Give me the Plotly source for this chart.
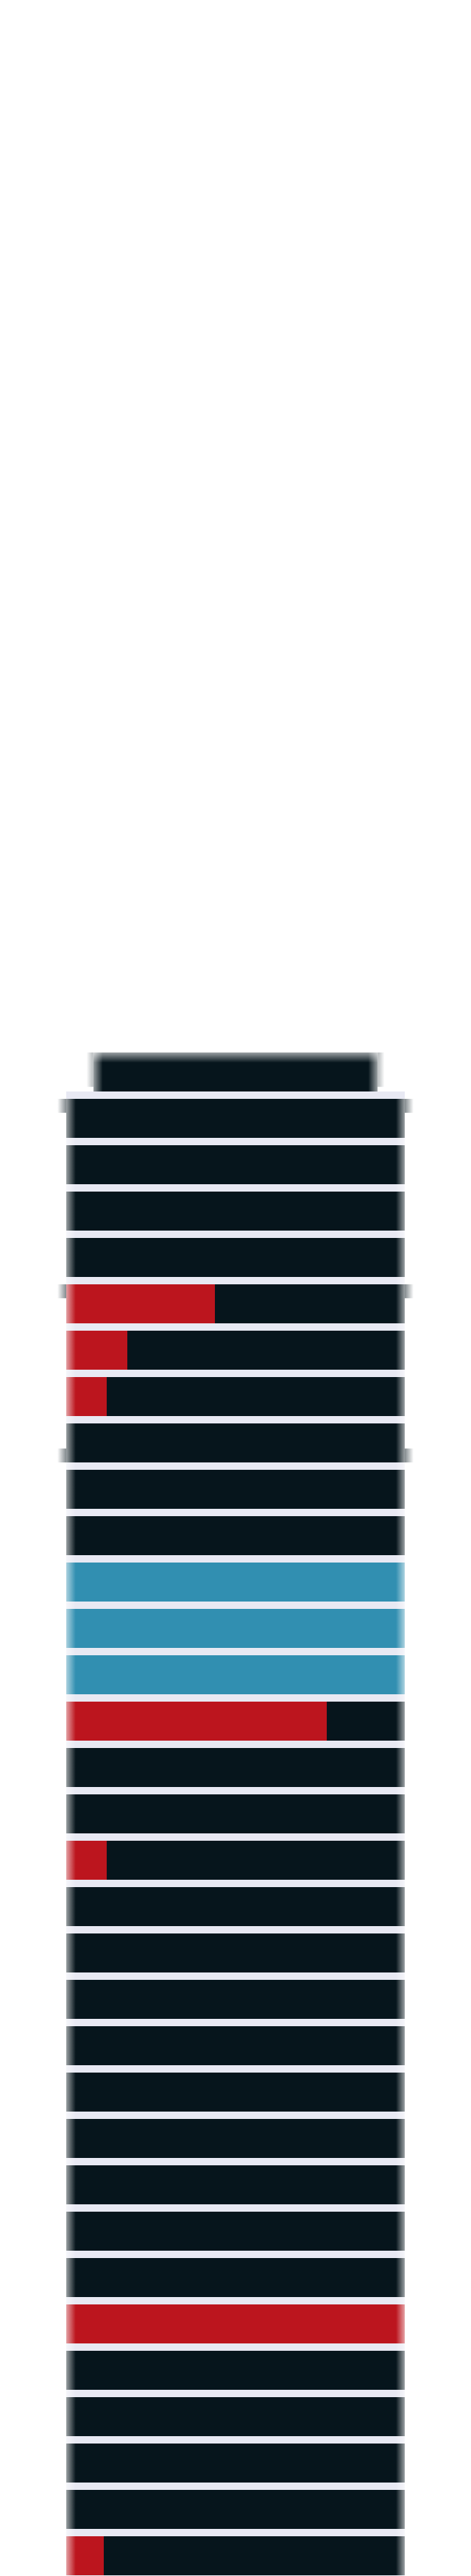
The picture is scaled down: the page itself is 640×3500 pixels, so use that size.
import plotly.graph_objects as go

# ---- data (top floor first) ----
floors = list(range(33, 0, -1))          # 33 = narrow roof floor
floor_inset = [8] + [0] * 32             # % inset of each floor on each side
red_pct = [0,
           0, 0, 0, 0,
           44, 18, 12,
           0, 0, 0,
           0, 0, 0,
           77,
           0, 0,
           12,
           0, 0, 0, 0, 0, 0, 0, 0, 0,
           100,
           0, 0, 0, 0,
           11]
blue_pct = [0,
            0, 0, 0, 0,
            0, 0, 0,
            0, 0, 0,
            100, 100, 100,
            0,
            0, 0,
            0,
            0, 0, 0, 0, 0, 0, 0, 0, 0,
            0,
            0, 0, 0, 0,
            0]
ledge_floors = [32, 28]          # cornice ledges at top of these floors
ledge_floors_bottom = [25]       # cornice ledge at bottom of this floor

DARK = "#06151c"
RED = "#bc151e"
BLUE = "#318fb1"
GAP = "#e8e9f3"
BG = "#ffffff"

bw = 53 / 63

fig = go.Figure()

# filled part
fig.add_bar(y=floors, x=red_pct, base=floor_inset, orientation="h",
            marker=dict(color=RED, line=dict(width=0)), width=bw,
            hoverinfo="skip", showlegend=False)
fig.add_bar(y=floors, x=blue_pct, base=[i + r for i, r in zip(floor_inset, red_pct)],
            orientation="h", marker=dict(color=BLUE, line=dict(width=0)), width=bw,
            hoverinfo="skip", showlegend=False)
# remaining (dark) part
dark_base = [i + r + b for i, r, b in zip(floor_inset, red_pct, blue_pct)]
dark_len = [100 - i - d for i, d in zip(floor_inset, dark_base)]
fig.add_bar(y=floors, x=dark_len, base=dark_base, orientation="h",
            marker=dict(color=DARK, line=dict(width=0)), width=bw,
            hoverinfo="skip", showlegend=False)


def grad_rect(x0, x1, y0, y1, c0, c1, kind="horizontal"):
    fig.add_trace(go.Scatter(
        x=[x0, x1, x1, x0, x0], y=[y0, y0, y1, y1, y0], mode="lines",
        line=dict(width=0, color="rgba(0,0,0,0)"), fill="toself",
        fillgradient=dict(type=kind, colorscale=[[0, c0], [1, c1]]),
        hoverinfo="skip", showlegend=False))


W0 = "rgba(255,255,255,0.6)"
W1 = "rgba(255,255,255,0)"
D0 = "rgba(6,21,28,0)"
D1 = "rgba(6,21,28,0.5)"
D1s = "rgba(6,21,28,0.3)"

top_main = max(floors) - 1 + bw / 2
bottom_all = min(floors) - 1
roof = max(floors)
roof_in = floor_inset[0]

# soft edges of the main body
grad_rect(0, 2.8, bottom_all, top_main, W0, W1)
grad_rect(97.4, 100, bottom_all, top_main, W1, W0)
# soft edges of the roof
grad_rect(roof_in, roof_in + 2.8, roof - bw / 2, roof + bw / 2, W0, W1)
grad_rect(100 - roof_in - 2.8, 100 - roof_in, roof - bw / 2, roof + bw / 2, W1, W0)
grad_rect(roof_in - 2.0, roof_in, roof - bw / 2 + 0.1, roof + bw / 2, D0, D1s)
grad_rect(100 - roof_in, 100 - roof_in + 2.0, roof - bw / 2 + 0.1, roof + bw / 2, D1s, D0)
grad_rect(roof_in, 100 - roof_in, roof + bw / 2 - 0.22, roof + bw / 2, W1, W0, "vertical")

# cornice ledges
for f in ledge_floors:
    grad_rect(-2.6, 0, f + bw / 2 - 0.3, f + bw / 2, D0, D1)
    grad_rect(100, 102.6, f + bw / 2 - 0.3, f + bw / 2, D1, D0)
for f in ledge_floors_bottom:
    grad_rect(-2.6, 0, f - bw / 2, f - bw / 2 + 0.3, D0, D1)
    grad_rect(100, 102.6, f - bw / 2, f - bw / 2 + 0.3, D1, D0)

fig.add_shape(type="rect", xref="x", yref="y", layer="below",
              x0=0, x1=100, y0=bottom_all, y1=max(floors) - bw / 2,
              fillcolor=GAP, line=dict(width=0))

fig.update_layout(
    width=632, height=3500,
    margin=dict(l=59, r=67, t=1400, b=0, pad=0),
    paper_bgcolor=BG, plot_bgcolor=BG,
    barmode="overlay", bargap=0,
    showlegend=False,
    xaxis=dict(range=[-5, 105], visible=False, fixedrange=True),
    yaxis=dict(range=[33.77 - 2100 / 63, 33.77], autorange=False, visible=False,
               fixedrange=True),
)

fig.write_html("out.html")
